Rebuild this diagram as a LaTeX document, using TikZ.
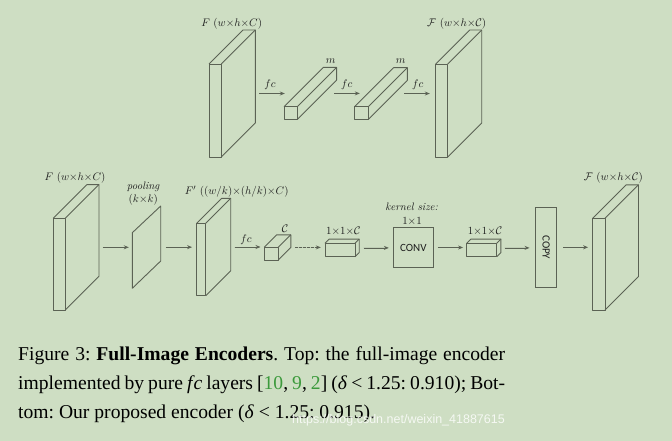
\documentclass[tikz,border=0pt]{standalone}
\usepackage{tikz}
\usetikzlibrary{arrows.meta,positioning,calc,fit}
\usepackage{xcolor}
\usepackage{amsmath,amssymb}
\usepackage{fontspec}
\newfontfamily\capfont{Liberation Serif}
\newfontfamily\boxfont{Carlito}
\newfontfamily\wmfont{Liberation Sans}
\definecolor{bgcol}{HTML}{CEDEC3}
\definecolor{edgecol}{HTML}{5B6254}
\definecolor{citecol}{HTML}{3C9A3C}
\definecolor{labelcol}{HTML}{1E1E1E}

\begin{document}
\begin{tikzpicture}[x=1pt, y=-1pt,
  edge/.style={draw=edgecol, line width=0.9pt, line join=round},
  boxn/.style={draw=edgecol, line width=0.9pt, inner sep=0pt, font=\boxfont\fontsize{11}{12}\selectfont, text=labelcol},
  arr/.style={-{Stealth[length=5pt, width=4pt]}, draw=edgecol, fill=edgecol, line width=0.8pt},
  lbl/.style={font=\fontsize{10.8}{12}\selectfont, text=labelcol, inner sep=0pt}
]
  \fill[bgcol] (0,0) rectangle (672,441);
  \useasboundingbox (0,0) rectangle (672,441);

  % slabs and bars: name / x / y / width / height / depth
  \foreach \nm/\x/\y/\w/\h/\d in {tin/209/64/12.3/93/34, bar1/284/106.7/13.3/12.7/39.3,
      bar2/354.5/106.7/13.8/12.7/39, tout/435.7/64/12/93/34,
      bin/53.3/218.3/12/91.7/33.7, fp/196.7/223.3/9/72.4/25, cube/264.3/247.3/14/12.7/12.5,
      box1/325/243.3/30/13.4/4.2, box2/466.7/243.3/30/13.4/4.2, bout/592.7/218.3/12.3/91.7/33.5}{
    \draw[edge] (\x,\y) rectangle ++(\w,\h);
    \draw[edge] (\x,\y) -- ++(\d,-\d) -- ++(\w,0) -- ++(0,\h) -- ++(-\d,\d);
    \draw[edge] (\x+\w,\y) -- ++(\d,-\d);
    \node[inner sep=0pt, fit={(\x,\y-\d) (\x+\w+\d,\y+\h)}] (\nm) {};
  }

  % pooling plane
  \draw[edge] (132.3,232.7) -- (160.7,206) -- (160.7,261) -- (132.3,288.3) -- cycle;
  \node[inner sep=0pt, fit={(132.3,206) (160.7,288.3)}] (pool) {};

  \node[boxn, minimum width=40pt, minimum height=39.6pt] (conv) at (413.3,247.5) {CONV};
  \node[boxn, minimum width=21pt, minimum height=80pt] (copy) at (546.2,247.3) {\rotatebox{-90}{COPY}};

  % connectors
  \foreach \a/\b/\s/\e in {tin/bar1/3.7/-1, bar1/bar2/-2.6/-5.5, bar2/tout/-3.3/5.7,
      bin/pool/3.7/3.3, pool/fp/5/4.4, fp/cube/3.6/3.6, box1/conv/4.1/4,
      conv/box2/4/3.4, box2/copy/3.4/5.7, copy/bout/6/4.4}{
    \draw[arr, shorten <=\s pt, shorten >=\e pt] (\a.east) -- (\a.east -| \b.west);
  }
  \draw[arr, dash pattern=on 2.5pt off 1.5pt, shorten <=4.2pt, shorten >=4pt] (cube.east) -- (cube.east -| box1.west);

  % labels
  \node[lbl] (ltin) at (231.7,24) {$F\ (w{\times}h{\times}C)$};
  \node[lbl] (ltout) at (456.7,24) {$\mathcal{F}\ (w{\times}h{\times}\mathcal{C})$};
  \node[lbl] (lm1) at (330.7,61) {$m$};
  \node[lbl] (lm2) at (400.7,61) {$m$};
  \foreach \i/\x/\y in {1/270/85, 2/346.7/85, 3/417.7/85, 4/246/240}{
    \node[lbl] (lfc\i) at (\x,\y) {$fc$};}
  \node[lbl] (lbin) at (75,177.3) {$F\ (w{\times}h{\times}C)$};
  \node[lbl] (lpool) at (143.3,186.7) {\textit{pooling}};
  \node[lbl] (lk) at (143.3,199.3) {$(k{\times}k)$};
  \node[lbl] (lfp) at (236.7,191.7) {$F'\ ((w/k){\times}(h/k){\times}C)$};
  \node[lbl] (lcube) at (285,228.3) {$\mathcal{C}$};
  \node[lbl] (lbox1) at (343.3,231) {$1{\times}1{\times}\mathcal{C}$};
  \node[lbl] (lkern) at (411.7,207.3) {\textit{kernel size:}};
  \node[lbl] (lconv) at (412,221) {$1{\times}1$};
  \node[lbl] (lbox2) at (485,231) {$1{\times}1{\times}\mathcal{C}$};
  \node[lbl] (lbout) at (613.3,177.3) {$\mathcal{F}\ (w{\times}h{\times}\mathcal{C})$};

  % caption
  \node[anchor=north west, inner sep=0pt, text width=487pt, align=justify,
        font=\capfont\fontsize{19.6}{29}\selectfont\frenchspacing, text=black] (cap) at (18,346)
    {Figure 3: \textbf{Full-Image Encoders}. Top: the full-image encoder\linebreak
     implemented by pure \textit{f\kern1pt c} layers [{\color{citecol}10}, {\color{citecol}9}, {\color{citecol}2}] (\textit{δ} < 1.25: 0.910); Bot-\linebreak
     tom: Our proposed encoder (\textit{δ} < 1.25: 0.915).};
  \node[anchor=east, inner sep=0pt, text=white, text opacity=0.8,
        font=\wmfont\fontsize{12.5}{14}\selectfont] (wm) at (505,420) {https://blog.csdn.net/weixin\_41887615};
\end{tikzpicture}
\end{document}
